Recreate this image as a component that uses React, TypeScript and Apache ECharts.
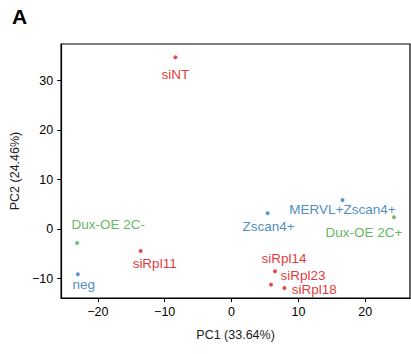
import React, { useEffect, useRef } from "react";
import * as echarts from "echarts";

const names = ["siNT", "Dux-OE 2C-", "neg", "siRpl11", "Zscan4+", "MERVL+Zscan4+", "Dux-OE 2C+", "siRpl14", "siRpl23", "siRpl18"];
const pc1 = [-8.4, -23.1, -23.0, -13.6, 5.4, 16.6, 24.3, 6.5, 5.9, 7.9];
const pc2 = [34.7, -2.8, -9.1, -4.4, 3.2, 5.9, 2.4, -8.5, -11.2, -11.9];
const groups = ["si", "dux", "cell", "si", "cell", "cell", "dux", "si", "si", "si"];
const labelOffsets: number[][] = [[0, 17], [31, -19], [6, 10], [14, 13], [1, 13], [0, 10], [-30, 15], [9, -13], [32, -9], [30, 1]];
const xTicks = [-20, -10, 0, 10, 20];
const yTicks = [-10, 0, 10, 20, 30];

const colors: Record<string, string> = { si: "#e41a1c", dux: "#4daf4a", cell: "#377eb8" };
const FONT = "Liberation Sans, Arial, sans-serif";

export default function App() {
  const ref = useRef<HTMLDivElement>(null);
  useEffect(() => {
    const chart = echarts.init(ref.current!, null, { renderer: "svg" });
    const data = names.map((n, i) => ({
      value: [pc1[i], pc2[i]],
      name: n,
      itemStyle: { color: colors[groups[i]] },
      label: {
        show: true,
        formatter: n,
        position: "inside",
        offset: labelOffsets[i],
        color: colors[groups[i]],
        opacity: 0.9,
        fontSize: 13.5,
        fontFamily: FONT,
      },
    }));
    const fmt = (v: number) => (v < 0 ? "\u2212" + Math.abs(v) : String(v));
    chart.setOption({
      animation: false,
      grid: { left: 61, top: 44, right: 1, bottom: 56, show: true, borderColor: "#000", borderWidth: 1.2, backgroundColor: "transparent" },
      graphic: [
        { type: "text", left: 12, top: 6, style: { text: "A", font: `bold 21px ${FONT}`, fill: "#000" } },
      ],
      xAxis: {
        type: "value",
        min: -25.5,
        max: 26.7,
        name: "PC1 (33.64%)",
        nameLocation: "middle",
        nameGap: 30,
        nameTextStyle: { color: "#222", fontSize: 12.5, fontFamily: FONT },
        axisLine: { show: true, onZero: false, lineStyle: { color: "#000", width: 1.2 } },
        axisTick: { show: true, customValues: xTicks, length: 4, lineStyle: { color: "#000" } },
        axisLabel: { customValues: xTicks, color: "#000", fontSize: 12.5, fontFamily: FONT, margin: 7, formatter: fmt },
        splitLine: { show: false },
      },
      yAxis: {
        type: "value",
        min: -13.9,
        max: 37.4,
        name: "PC2 (24.46%)",
        nameLocation: "middle",
        nameGap: 37,
        nameTextStyle: { color: "#222", fontSize: 12.5, fontFamily: FONT },
        axisLine: { show: true, onZero: false, lineStyle: { color: "#000", width: 1.2 } },
        axisTick: { show: true, customValues: yTicks, length: 4, lineStyle: { color: "#000" } },
        axisLabel: { customValues: yTicks, color: "#000", fontSize: 12.5, fontFamily: FONT, margin: 8, formatter: fmt },
        splitLine: { show: false },
      },
      series: [
        {
          type: "scatter",
          symbolSize: 4,
          data,
        },
      ],
    });
    return () => chart.dispose();
  }, []);
  return <div ref={ref} style={{ width: 411, height: 354, position: "absolute", left: 0, top: 0 }} />;
}
